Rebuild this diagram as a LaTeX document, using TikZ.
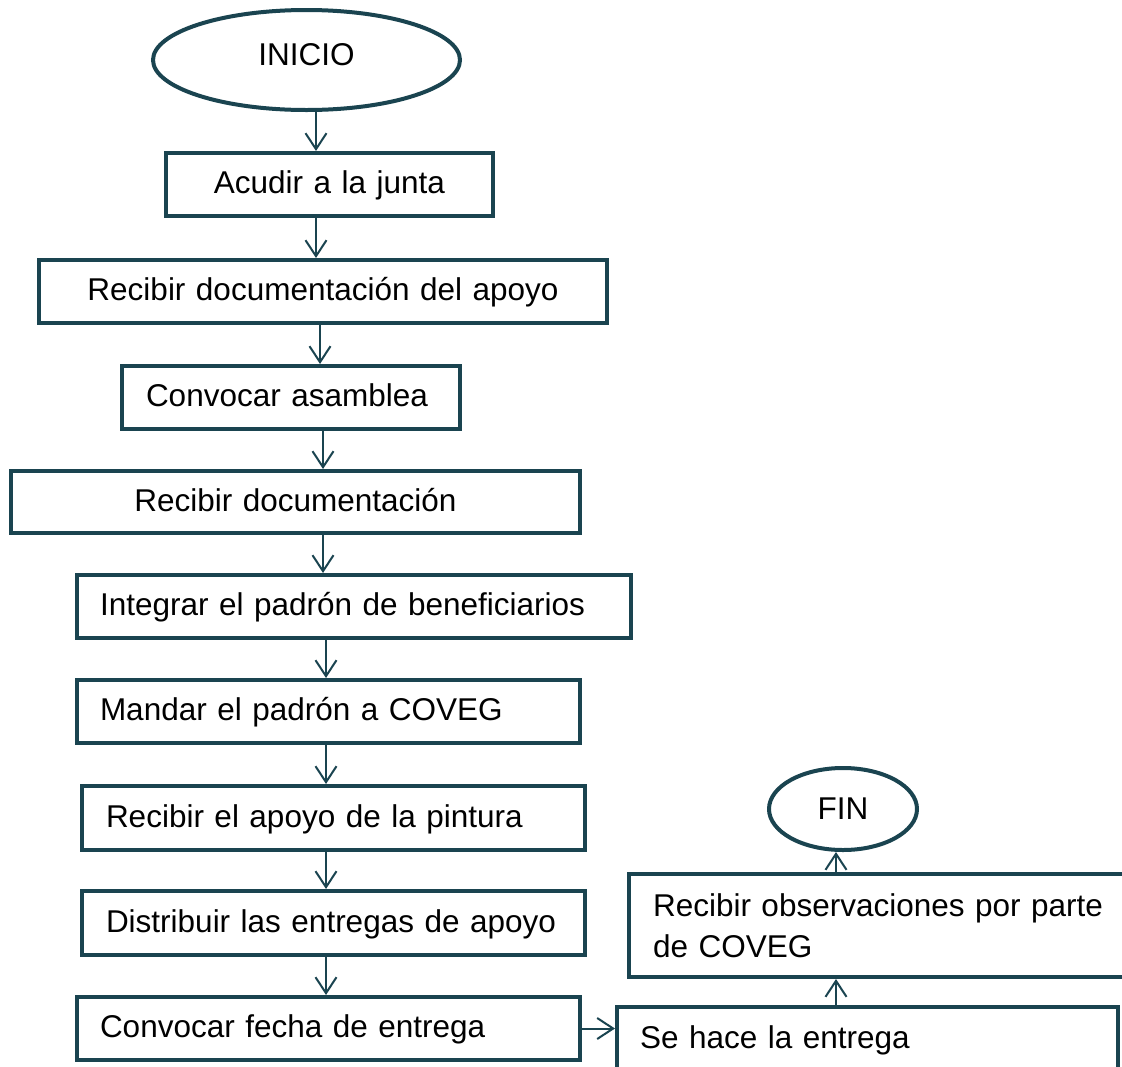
\documentclass[tikz,border=0pt]{standalone}
\usepackage{fontspec}
\setmainfont{Liberation Sans}
\usetikzlibrary{shapes.geometric,arrows.meta}
\definecolor{flow}{HTML}{1A4450}
\begin{document}
\begin{tikzpicture}[x=1pt,y=-1pt,
  every node/.style={font=\fontsize{31.5}{41}\selectfont},
  box/.style={draw=flow, line width=4pt, inner ysep=0pt, minimum height=63pt},
  oneline/.style={text height=23pt, text depth=5pt},
  cbox/.style={box, oneline, align=center, inner xsep=0pt},
  lbox/.style={box, oneline, align=left, inner xsep=23pt},
  oval/.style={draw=flow, line width=4pt, ellipse, inner sep=0pt},
  arr/.style={draw=flow, line width=2pt, -{Straight Barb[length=16pt,width=21pt]}}]
\useasboundingbox (0,0) rectangle (1122,1066);
\clip (0,0) rectangle (1122,1066);
\fill[white] (0,0) rectangle (1122,1066);

\node[oval, minimum width=307pt, minimum height=100pt, text depth=12pt] (ini) at (306.5,60) {INICIO};
\node[cbox, minimum width=327pt, text width=327pt] (b1) at (329.5,184.5) {Acudir a la junta};
\node[cbox, minimum width=568pt, text width=568pt] (b2) at (323,291.5) {Recibir documentación del apoyo};
\node[lbox, inner xsep=24pt, text width=290pt] (b3) at (291,397.5) {Convocar asamblea};
\node[cbox, minimum width=569pt, text width=569pt, minimum height=62pt] (b4) at (295.5,502) {Recibir documentación};
\node[lbox, text width=508pt] (b5) at (354,606.5) {Integrar el padrón de beneficiarios};
\node[lbox, text width=457pt] (b6) at (328.5,711.5) {Mandar el padrón a COVEG};
\node[lbox, inner xsep=24pt, text width=455pt, minimum height=64pt] (b7) at (333.5,818) {Recibir el apoyo de la pintura};
\node[lbox, inner xsep=24pt, text width=455pt, minimum height=64pt] (b8) at (333.5,923) {Distribuir las entregas de apoyo};
\node[lbox, text width=457pt] (b9) at (328.5,1028.5) {Convocar fecha de entrega};
\node[lbox, text width=455pt, minimum height=65pt] (b10) at (867.5,1039.5) {Se hace la entrega};
\node[box, align=left, inner xsep=24pt, text width=463pt, minimum height=103pt] (b11) at (884.5,925.5) {Recibir observaciones por parte\\de COVEG};
\node[oval, minimum width=148pt, minimum height=82pt] (fin) at (843,809) {FIN};

\coordinate (x1) at (316,0);
\coordinate (x2) at (320,0);
\coordinate (x3) at (323,0);
\coordinate (x4) at (326,0);
\coordinate (x5) at (836,0);

\draw[arr] (ini.south -| x1) -- (b1.north -| x1);
\draw[arr] (b1.south -| x1) -- (b2.north -| x1);
\draw[arr] (b2.south -| x2) -- (b3.north -| x2);
\draw[arr] (b3.south -| x3) -- (b4.north -| x3);
\draw[arr] (b4.south -| x3) -- (b5.north -| x3);
\draw[arr] (b5.south -| x4) -- (b6.north -| x4);
\draw[arr] (b6.south -| x4) -- (b7.north -| x4);
\draw[arr] (b7.south -| x4) -- (b8.north -| x4);
\draw[arr] (b8.south -| x4) -- (b9.north -| x4);
\draw[arr] (b9.east) -- (b9.east -| b10.west);
\draw[arr] (b10.north -| x5) -- (b11.south -| x5);
\draw[arr] (b11.north -| x5) -- (fin.south -| x5);
\end{tikzpicture}
\end{document}
